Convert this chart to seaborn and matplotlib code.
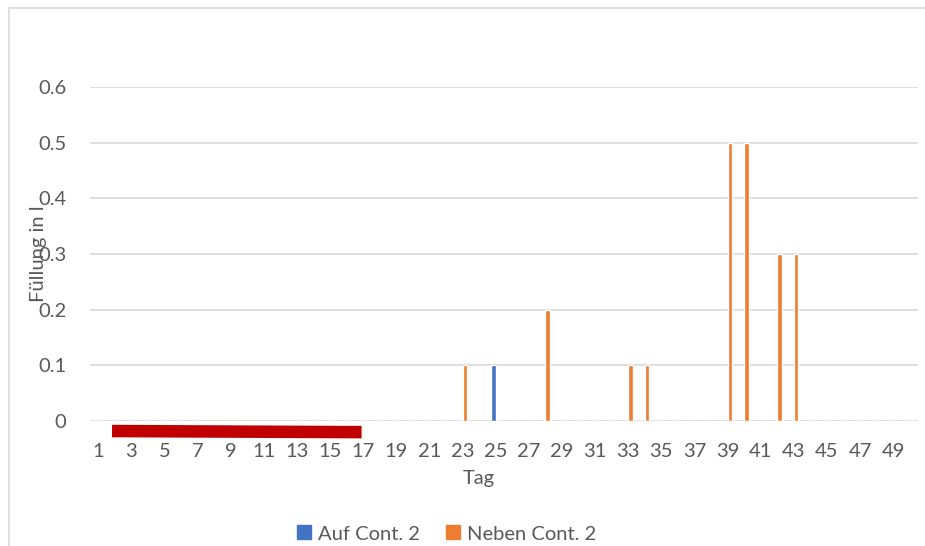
import numpy as np
import pandas as pd
import matplotlib
matplotlib.use("Agg")
import matplotlib.pyplot as plt
import matplotlib.patches as mpatches
from matplotlib.lines import Line2D
import seaborn as sns

# Tage 1..50
days = list(range(1, 51))

# Füllung in l, "Auf Cont. 2"
auf_cont2 = [0, 0, 0, 0, 0, 0, 0, 0, 0, 0,
             0, 0, 0, 0, 0, 0, 0, 0, 0, 0,
             0, 0, 0, 0, 0.1, 0, 0, 0, 0, 0,
             0, 0, 0, 0, 0, 0, 0, 0, 0, 0,
             0, 0, 0, 0, 0, 0, 0, 0, 0, 0]

# Füllung in l, "Neben Cont. 2"
neben_cont2 = [0, 0, 0, 0, 0, 0, 0, 0, 0, 0,
               0, 0, 0, 0, 0, 0, 0, 0, 0, 0,
               0, 0, 0.1, 0, 0, 0, 0, 0.2, 0, 0,
               0, 0, 0.1, 0.1, 0, 0, 0, 0, 0.5, 0.5,
               0, 0.3, 0.3, 0, 0, 0, 0, 0, 0, 0]

series_names = ["Auf Cont. 2", "Neben Cont. 2"]
colors = ["#4472C4", "#ED7D31"]
y_ticks = [0, 0.1, 0.2, 0.3, 0.4, 0.5, 0.6]
y_ticklabels = ["0", "0.1", "0.2", "0.3", "0.4", "0.5", "0.6"]

# roter Balken (Markierung) in Achsen-Datenkoordinaten
red_x = [0.83, 15.9]
red_y = [-0.018, -0.020]

df = pd.DataFrame({
    "Tag": days + days,
    "Fuellung": auf_cont2 + neben_cont2,
    "Serie": [series_names[0]] * len(days) + [series_names[1]] * len(days),
})

sns.set_style("white")
plt.rcParams["font.family"] = ["Lato", "DejaVu Sans"]
fs = 14.5

fig = plt.figure(figsize=(9.25, 5.46), dpi=100)
ax = fig.add_axes([0.0973, 0.2289, 0.8951, 0.6118])

sns.barplot(data=df, x="Tag", y="Fuellung", hue="Serie", hue_order=series_names,
            palette=colors, width=0.55, dodge=True, saturation=1, ax=ax,
            legend=False, errorbar=None)

grey = "#595959"
ax.set_ylim(0, 0.6)
ax.set_xlim(-0.5, len(days) - 0.5)
ax.set_yticks(y_ticks)
ax.set_yticklabels(y_ticklabels)
ax.set_xticks(range(0, len(days), 2))
ax.set_xticklabels([str(d) for d in days[::2]])
ax.yaxis.grid(True, color="#d9d9d9", linewidth=1.2)
ax.set_axisbelow(True)
for s in ax.spines.values():
    s.set_visible(False)
ax.tick_params(axis="both", length=0, labelsize=fs, labelcolor=grey)
ax.tick_params(axis="y", pad=17)
ax.tick_params(axis="x", pad=16)

ax.set_ylabel("Füllung in l", fontsize=fs, color=grey)
ax.yaxis.set_label_coords(-0.052, 0.5)
ax.set_xlabel("Tag", fontsize=fs, color=grey)
ax.xaxis.set_label_coords(0.469, -0.148)

# roter Balken
ax.plot(red_x, red_y, color="#C00000", linewidth=9, solid_capstyle="butt",
        clip_on=False, zorder=5)

# Legende unten, quadratische Symbole
handles = [Line2D([], [], linestyle="none", marker="s", markersize=9.5,
                  markerfacecolor=c, markeredgecolor=c, label=n)
           for c, n in zip(colors, series_names)]
fig.legend(handles=handles, loc="center", bbox_to_anchor=(0.483, 0.022), ncol=2,
           frameon=False, fontsize=fs, handlelength=0.7,
           columnspacing=1.3, handletextpad=0.35, labelcolor=grey)

# Rahmen des Diagrammbereichs
fig.patches.append(mpatches.Rectangle((0.0097, -0.05), 1.1, 1.035, transform=fig.transFigure,
                                      fill=False, edgecolor="#d9d9d9", linewidth=1.2))

fig.savefig("out.png", dpi=100)
